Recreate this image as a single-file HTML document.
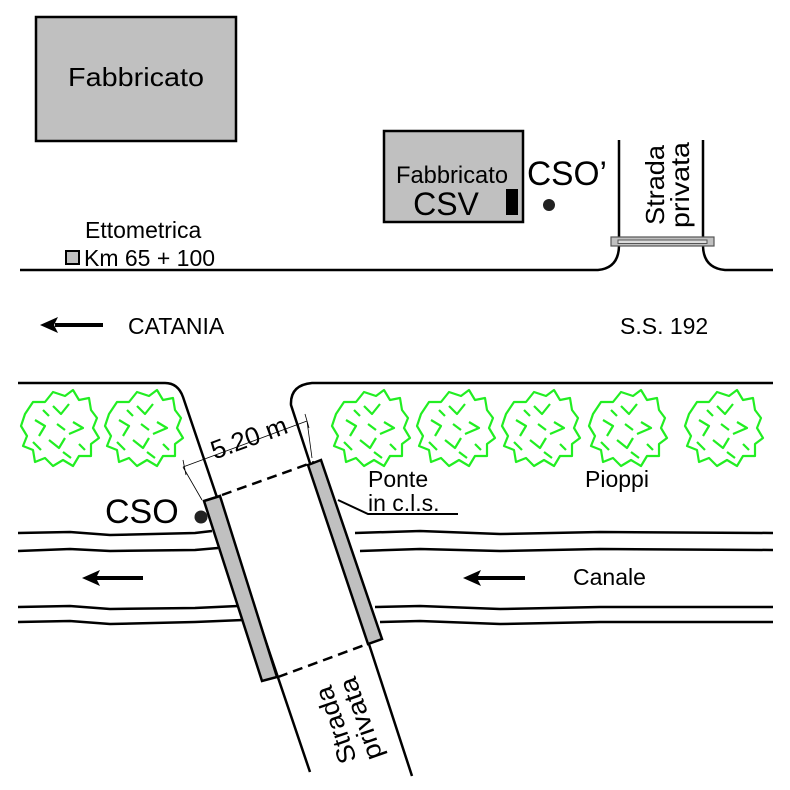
<!DOCTYPE html>
<html><head><meta charset="utf-8"><style>html,body{margin:0;padding:0;background:#fff}svg{display:block}text{font-family:"Liberation Sans",sans-serif;fill:#000}</style></head>
<body>
<svg width="790" height="790" viewBox="0 0 790 790" xmlns="http://www.w3.org/2000/svg">
<defs>
<g id="tree" fill="none" stroke="#22ee22" stroke-width="2.2" stroke-linejoin="round">
<path d="M-34,-14 L-26,-26 L-14,-26 L-6,-36 L6,-32 L14,-38 L20,-28 L30,-30 L32,-18 L38,-10 L34,0 L40,10 L32,16 L32,28 L20,28 L14,38 L4,32 L-6,38 L-14,30 L-24,34 L-26,22 L-36,18 L-32,8 L-38,-2 Z"/>
<path d="M-24,-8 L-14,-2 L-20,8 M-6,-22 L2,-14 L10,-24 M14,-6 L24,0 L10,6 M-10,12 L0,20 L6,10 M-2,-4 L6,2 M20,16 L26,22 M-26,14 L-18,22 M-16,-18 L-10,-12 M4,24 L12,30"/>
</g>
</defs>
<rect x="36" y="17" width="200" height="124" fill="#c0c0c0" stroke="#000" stroke-width="2.5"/>
<text x="136" y="86" font-size="26" text-anchor="middle" textLength="136" lengthAdjust="spacingAndGlyphs">Fabbricato</text>
<rect x="384" y="131" width="139" height="91" fill="#c0c0c0" stroke="#000" stroke-width="2.5"/>
<text x="452" y="183" font-size="24" text-anchor="middle" textLength="112" lengthAdjust="spacingAndGlyphs">Fabbricato</text>
<text x="446" y="215" font-size="32" text-anchor="middle">CSV</text>
<rect x="506" y="189" width="12" height="26" fill="#000"/>
<text x="527" y="185" font-size="34" textLength="80" lengthAdjust="spacingAndGlyphs">CSO’</text>
<circle cx="549" cy="205" r="6" fill="#222"/>
<g fill="none" stroke="#000" stroke-width="2.5">
<path d="M20,270 L598,270 Q619,268 619,245 L619,140"/>
<path d="M703,140 L703,245 Q703,268 725,270 L773,270"/>
</g>
<rect x="611" y="237" width="103" height="9" fill="#c0c0c0" stroke="#555" stroke-width="1.2"/>
<rect x="618" y="240" width="89" height="3.5" fill="#ddd" stroke="#555" stroke-width="1"/>
<text transform="translate(664,185) rotate(-90)" font-size="26" text-anchor="middle" textLength="80" lengthAdjust="spacingAndGlyphs">Strada</text>
<text transform="translate(689,185) rotate(-90)" font-size="26" text-anchor="middle" textLength="86" lengthAdjust="spacingAndGlyphs">privata</text>
<text x="85" y="238" font-size="23">Ettometrica</text>
<rect x="66" y="251" width="13" height="13" fill="#c0c0c0" stroke="#000" stroke-width="2"/>
<text x="84" y="266" font-size="23">Km 65 + 100</text>
<path d="M55,325 L103,325" stroke="#000" stroke-width="4"/>
<path d="M40,325 L58,317 L54,325 L58,333 Z" fill="#000"/>
<text x="128" y="334" font-size="23">CATANIA</text>
<text x="620" y="334" font-size="23">S.S. 192</text>
<g fill="none" stroke="#000" stroke-width="2.5">
<path d="M18,383 L165,383 Q178,383 183,397 L310,772"/>
<path d="M773,383 L312,383 Q290,385 291,405 L412,776"/>
</g>
<use href="#tree" x="59" y="428"/>
<use href="#tree" x="143" y="428"/>
<use href="#tree" x="370" y="428"/>
<use href="#tree" x="455" y="428"/>
<use href="#tree" x="540" y="428"/>
<use href="#tree" x="627" y="428"/>
<use href="#tree" x="723" y="428"/>
<g fill="none" stroke="#000" stroke-width="2.5">
<path d="M18,533 L70,532 L110,535 L195,533 L212,531"/>
<path d="M18,551 L70,549 L110,551 L195,550 L218,548"/>
<path d="M18,607 L70,606 L110,609 L195,608 L238,606"/>
<path d="M18,622 L70,621 L110,624 L195,622 L243,620"/>
<path d="M355,533 L420,531 L500,534 L600,532 L773,533"/>
<path d="M360,551 L420,549 L500,551 L600,549 L773,550"/>
<path d="M375,607 L420,606 L500,609 L600,607 L773,607"/>
<path d="M380,622 L420,621 L500,624 L600,622 L773,622"/>
</g>
<path d="M338,500 L368,514 L458,514" fill="none" stroke="#000" stroke-width="2"/>
<path d="M222,495 L314,462 M278,677 L370,643" stroke="#000" stroke-width="2.5" stroke-dasharray="10,6" fill="none"/>
<polygon points="204,501 220,496 277,677 262,681" fill="#c0c0c0" stroke="#000" stroke-width="2.5"/>
<polygon points="308,465 321,460 382,639 368,644" fill="#c0c0c0" stroke="#000" stroke-width="2.5"/>
<path d="M183,467 L307,421 M183,460 L186,475 M305,414 L309,428 M183,467 L202,500 M307,421 L312,458" stroke="#000" stroke-width="0.8" fill="none"/>
<text transform="translate(252,446) rotate(-20)" font-size="26" text-anchor="middle">5.20 m</text>
<text x="105" y="523" font-size="34">CSO</text>
<circle cx="201" cy="517" r="6.5" fill="#222"/>
<text x="368" y="487" font-size="23">Ponte</text>
<text x="368" y="511" font-size="23">in c.l.s.</text>
<text x="585" y="487" font-size="23">Pioppi</text>
<path d="M96,578 L143,578" stroke="#000" stroke-width="4"/>
<path d="M82,578 L100,570 L96,578 L100,586 Z" fill="#000"/>
<path d="M477,578 L525,578" stroke="#000" stroke-width="4"/>
<path d="M463,578 L481,570 L477,578 L481,586 Z" fill="#000"/>
<text x="573" y="585" font-size="23">Canale</text>
<text transform="translate(344,722) rotate(-109)" font-size="26" text-anchor="middle" textLength="80" lengthAdjust="spacingAndGlyphs">Strada</text>
<text transform="translate(369,716) rotate(-109)" font-size="26" text-anchor="middle" textLength="86" lengthAdjust="spacingAndGlyphs">privata</text>
</svg>
</body></html>
